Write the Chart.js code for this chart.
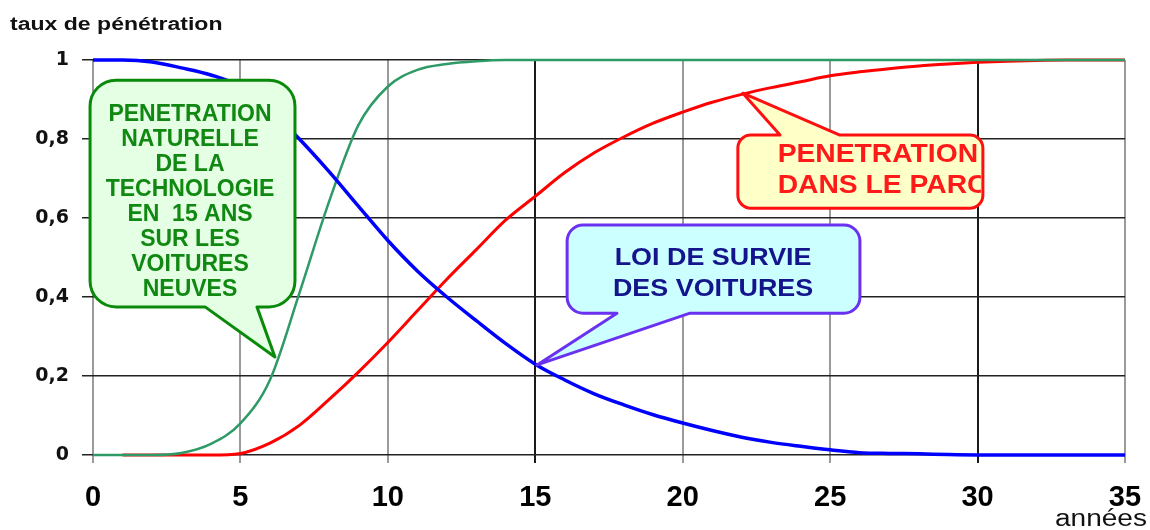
<!DOCTYPE html>
<html>
<head>
<meta charset="utf-8">
<script src="https://cdn.jsdelivr.net/npm/chart.js@4"></script>
<style>
  html, body { margin: 0; padding: 0; background: #fff; }
</style>
</head>
<body>
<canvas id="chart" width="1150" height="530"></canvas>
<script>
// années
const years = [0, 1, 2, 3, 4, 5, 6, 7, 8, 9, 10, 11, 12, 13, 14, 15, 16, 17, 18, 19, 20,
  21, 22, 23, 24, 25, 26, 27, 28, 29, 30, 31, 32, 33, 34, 35];

// loi de survie des voitures (bleu)
const survie = [1, 1, 0.995, 0.98, 0.962, 0.933, 0.875, 0.8, 0.718, 0.63, 0.543, 0.466, 0.4,
  0.34, 0.282, 0.23, 0.19, 0.155, 0.127, 0.102, 0.081, 0.062, 0.045, 0.032, 0.022, 0.013,
  0.006, 0.004, 0.003, 0.001, 0, 0, 0, 0, 0, 0];

// pénétration naturelle sur les voitures neuves (vert)
const naturelle = [0, 0, 0, 0.005, 0.028, 0.08, 0.19, 0.41, 0.64, 0.835, 0.933, 0.975, 0.99,
  0.997, 1, 1, 1, 1, 1, 1, 1, 1, 1, 1, 1, 1, 1, 1, 1, 1, 1, 1, 1, 1, 1, 1];

// pénétration dans le parc (rouge)
const parc = [null, 0, 0, 0, 0, 0.004, 0.03, 0.075, 0.14, 0.21, 0.285, 0.365, 0.445, 0.52,
  0.595, 0.655, 0.715, 0.765, 0.805, 0.84, 0.868, 0.893, 0.913, 0.93, 0.945, 0.96, 0.97,
  0.978, 0.985, 0.99, 0.994, 0.997, 0.999, 1, 1, 1];

const xTicks = [0, 5, 10, 15, 20, 25, 30, 35];
const yTicks = ['0', '0,2', '0,4', '0,6', '0,8', '1'];

const toPoints = arr => years.map((x, i) => ({ x: x, y: arr[i] }));

// bulles (coordonnées en unités du graphique)
const callouts = [
  {
    lines: ['PENETRATION', 'NATURELLE', 'DE LA', 'TECHNOLOGIE', 'EN  15 ANS', 'SUR LES', 'VOITURES', 'NEUVES'],
    box: [-0.1, 0.949, 6.85, 0.375], radius: 26, edge: 'bottom',
    base: [3.8, 5.56], tip: [6.17, 0.248],
    text: [3.29, 0.861], align: 'center', lineHeight: 25, font: 'bold 23px "Liberation Sans", Arial', sx: 1.0,
    fill: '#e4ffe4', stroke: '#0a8a0a', color: '#118811'
  },
  {
    lines: ['PENETRATION', 'DANS LE PARC'],
    box: [21.87, 0.81, 30.18, 0.625], radius: 13, edge: 'top',
    base: [23.3, 25.33], tip: [22.04, 0.916],
    text: [23.22, 0.759], align: 'left', lineHeight: 31, font: 'bold 25px "Liberation Sans", Arial', sx: 1.13,
    fill: '#ffffc8', stroke: '#ff1010', color: '#ff1a1a'
  },
  {
    lines: ['LOI DE SURVIE', 'DES VOITURES'],
    box: [16.08, 0.582, 26.01, 0.359], radius: 16, edge: 'bottom',
    base: [17.77, 20.25], tip: [15.06, 0.228],
    text: [21.03, 0.496], align: 'center', lineHeight: 31, font: 'bold 23px "Liberation Sans", Arial', sx: 1.17,
    fill: '#ccffff', stroke: '#6a32f0', color: '#14148c'
  }
];

function stretchText(ctx, text, x, y, align, sx) {
  ctx.save();
  ctx.translate(x, y);
  ctx.scale(sx, 1);
  ctx.textAlign = align;
  ctx.fillText(text, 0, 0);
  ctx.restore();
}

const calloutPlugin = {
  id: 'callouts',
  afterDatasetsDraw(chart) {
    const ctx = chart.ctx;
    const xs = chart.scales.x, ys = chart.scales.y;
    callouts.forEach(c => {
      const x0 = xs.getPixelForValue(c.box[0]), x1 = xs.getPixelForValue(c.box[2]);
      const y0 = ys.getPixelForValue(c.box[1]), y1 = ys.getPixelForValue(c.box[3]);
      const b0 = xs.getPixelForValue(c.base[0]), b1 = xs.getPixelForValue(c.base[1]);
      const tx = xs.getPixelForValue(c.tip[0]), ty = ys.getPixelForValue(c.tip[1]);
      const r = c.radius;
      ctx.save();
      ctx.beginPath();
      ctx.moveTo(x0 + r, y0);
      if (c.edge === 'top') {
        ctx.lineTo(b0, y0);
        ctx.lineTo(tx, ty);
        ctx.lineTo(b1, y0);
      }
      ctx.lineTo(x1 - r, y0);
      ctx.arcTo(x1, y0, x1, y0 + r, r);
      ctx.lineTo(x1, y1 - r);
      ctx.arcTo(x1, y1, x1 - r, y1, r);
      if (c.edge === 'bottom') {
        ctx.lineTo(b1, y1);
        ctx.lineTo(tx, ty);
        ctx.lineTo(b0, y1);
      }
      ctx.lineTo(x0 + r, y1);
      ctx.arcTo(x0, y1, x0, y1 - r, r);
      ctx.lineTo(x0, y0 + r);
      ctx.arcTo(x0, y0, x0 + r, y0, r);
      ctx.closePath();
      ctx.fillStyle = c.fill;
      ctx.fill();
      ctx.lineWidth = 3;
      ctx.lineJoin = 'round';
      ctx.strokeStyle = c.stroke;
      ctx.stroke();

      // texte, coupé au bord de la bulle
      ctx.beginPath();
      ctx.rect(x0 + 2, y0 + 2, x1 - x0 - 4, y1 - y0 - 4);
      ctx.clip();
      ctx.font = c.font;
      ctx.fillStyle = c.color;
      ctx.textBaseline = 'middle';
      const px = xs.getPixelForValue(c.text[0]);
      const py = ys.getPixelForValue(c.text[1]);
      c.lines.forEach((line, i) => {
        stretchText(ctx, line, px, py + i * c.lineHeight, c.align, c.sx);
      });
      ctx.restore();
    });
  },
  afterDraw(chart) {
    const ctx = chart.ctx;
    ctx.save();
    ctx.fillStyle = '#111';
    ctx.textBaseline = 'alphabetic';
    ctx.font = 'bold 18px "Liberation Sans", Arial';
    stretchText(ctx, 'taux de pénétration', 10, 30, 'left', 1.28);
    ctx.font = '23px "Liberation Sans", Arial';
    stretchText(ctx, 'années', 1147, 526, 'right', 1.22);
    ctx.restore();
  }
};

new Chart(document.getElementById('chart'), {
  type: 'line',
  data: {
    datasets: [
      { label: 'survie', data: toPoints(survie), borderColor: '#0000ff', borderWidth: 3.5 },
      { label: 'naturelle', data: toPoints(naturelle), borderColor: '#2e9a66', borderWidth: 2.5 },
      { label: 'parc', data: toPoints(parc), borderColor: '#ff0000', borderWidth: 3 }
    ]
  },
  options: {
    responsive: false,
    animation: false,
    layout: { padding: { top: 60, right: 25, left: 0, bottom: 0 } },
    elements: {
      line: { borderWidth: 3, cubicInterpolationMode: 'monotone', fill: false },
      point: { radius: 0, hoverRadius: 0 }
    },
    datasets: { line: { clip: false, spanGaps: false } },
    plugins: { legend: { display: false }, tooltip: { enabled: false } },
    scales: {
      x: {
        type: 'linear', min: 0, max: 35,
        afterFit: s => { s.height = 75; s.paddingLeft = 0; s.paddingRight = 0; },
        afterBuildTicks: s => { s.ticks = xTicks.map(v => ({ value: v })); },
        border: { display: false },
        grid: {
          color: c => (c.tick && (c.tick.value === 15 || c.tick.value === 30)) ? '#1a1a1a' : '#9a9a9a',
          lineWidth: 2, tickLength: 8
        },
        ticks: {
          color: '#000', padding: 18,
          font: { family: '"Liberation Sans", Arial', size: 29, weight: 'bold' }
        }
      },
      y: {
        min: 0, max: 1,
        afterFit: s => { s.width = 93; s.paddingTop = 0; s.paddingBottom = 0; },
        afterBuildTicks: s => { s.ticks = yTicks.map((t, i) => ({ value: i * 0.2 })); },
        border: { display: false },
        grid: { color: '#222', lineWidth: 1.5, tickLength: 11 },
        ticks: {
          color: '#111', padding: 13,
          font: { family: '"DejaVu Sans"', size: 19, weight: 'bold' },
          callback: (v, i) => yTicks[i]
        }
      }
    }
  },
  plugins: [calloutPlugin]
});
</script>
</body>
</html>
